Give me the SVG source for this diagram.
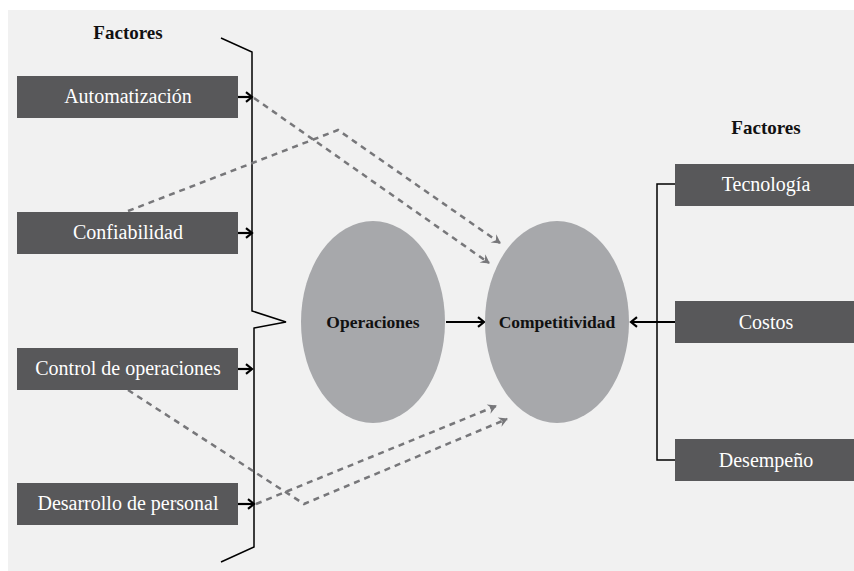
<svg xmlns="http://www.w3.org/2000/svg" width="854" height="571" viewBox="0 0 854 571">
<style>
.box{fill:#58585a}
.bt{font-family:"Liberation Serif",serif;font-size:20px;fill:#ffffff;text-anchor:middle}
.hd{font-family:"Liberation Serif",serif;font-size:19px;font-weight:bold;fill:#111;text-anchor:middle}
.el{fill:#a7a8ab}
.et{font-family:"Liberation Serif",serif;font-size:17.5px;font-weight:bold;fill:#111;text-anchor:middle}
.blk{stroke:#000;stroke-width:1.5;fill:none}
.arr{stroke:#000;stroke-width:2.2;fill:none;marker-end:url(#ah)}
.dash{stroke:#77777a;stroke-width:2.5;fill:none;stroke-dasharray:6 5;marker-end:url(#dh)}
</style>
<defs>
<marker id="ah" viewBox="0 0 10 10" refX="9" refY="5" markerWidth="12" markerHeight="12" markerUnits="userSpaceOnUse" orient="auto" overflow="visible">
<path d="M4,1 L9,5 L4,9" fill="none" stroke="#000" stroke-width="1.8"/>
</marker>
<marker id="dh" viewBox="0 0 10 10" refX="8" refY="5" markerWidth="10" markerHeight="10" markerUnits="userSpaceOnUse" orient="auto" overflow="visible">
<path d="M0,0 L9,5 L0,10 L3,5 Z" fill="#77777a"/>
</marker>
</defs>
<rect x="0" y="0" width="854" height="571" fill="#ffffff"/>
<rect x="8" y="10" width="846" height="561" fill="#f1f1f1"/>

<g id="connectors">
<polyline class="blk" points="221,38 252,52 252,311 286,322 254,328 254,547 221,562"/>
<line class="arr" x1="238" y1="97" x2="252" y2="97"/>
<line class="arr" x1="238" y1="233" x2="252" y2="233"/>
<line class="arr" x1="238" y1="369" x2="252" y2="369"/>
<line class="arr" x1="238" y1="504" x2="254" y2="504"/>
<line class="arr" x1="446" y1="322" x2="484" y2="322"/>
<polyline class="blk" points="675,184 657,184 657,460 675,460"/>
<line class="arr" x1="675" y1="322" x2="631" y2="322"/>
<polyline class="dash" points="254,98 489,263"/>
<polyline class="dash" points="128,211 338,130 500,243"/>
<polyline class="dash" points="128,390 304,504 507,419"/>
<polyline class="dash" points="256,504 496,406"/>
</g>

<g id="factores-izq"><text class="hd" x="128" y="39">Factores</text></g>
<g id="automatizacion"><rect class="box" x="17" y="76" width="221" height="42"/><text class="bt" x="128" y="103">Automatización</text></g>
<g id="confiabilidad"><rect class="box" x="17" y="212" width="221" height="42"/><text class="bt" x="128" y="239">Confiabilidad</text></g>
<g id="control"><rect class="box" x="17" y="348" width="221" height="42"/><text class="bt" x="128" y="375">Control de operaciones</text></g>
<g id="desarrollo"><rect class="box" x="17" y="483" width="221" height="42"/><text class="bt" x="128" y="510">Desarrollo de personal</text></g>

<g id="operaciones"><ellipse class="el" cx="373" cy="322" rx="72" ry="101"/><text class="et" x="373" y="328">Operaciones</text></g>
<g id="competitividad"><ellipse class="el" cx="557" cy="322" rx="72" ry="101"/><text class="et" x="557" y="328">Competitividad</text></g>

<g id="factores-der"><text class="hd" x="766" y="134">Factores</text></g>
<g id="tecnologia"><rect class="box" x="675" y="164" width="179" height="42"/><text class="bt" x="766" y="191">Tecnología</text></g>
<g id="costos"><rect class="box" x="675" y="301" width="179" height="42"/><text class="bt" x="766" y="329">Costos</text></g>
<g id="desempeno"><rect class="box" x="675" y="439" width="179" height="42"/><text class="bt" x="766" y="467">Desempeño</text></g>
</svg>
